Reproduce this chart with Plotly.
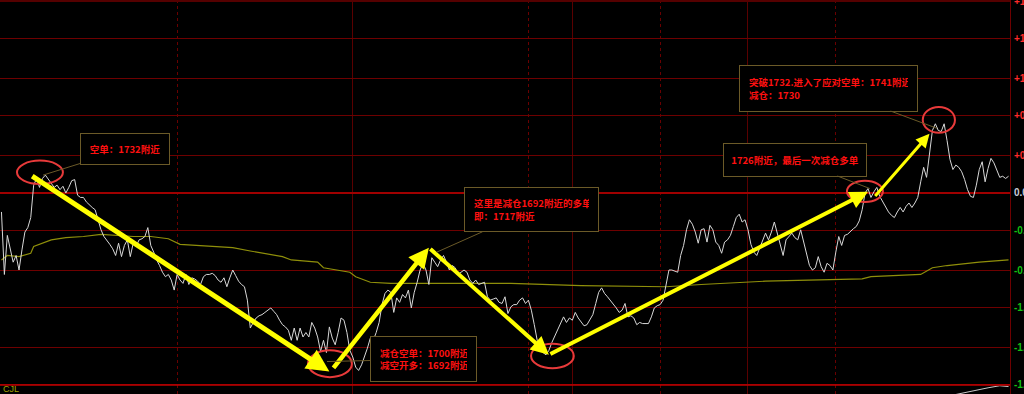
import plotly.graph_objects as go

# ---- data -------------------------------------------------------------
# percent change of each 1-minute bar (session of 345 bars)
price = [
    -0.17, -0.73, -0.38, -0.51, -0.62, -0.56, -0.69, -0.51, -0.35, -0.31,
    -0.22, 0.07, 0.13, 0.05, 0.13, 0.16, 0.12, 0.09, 0.05, 0.07,
    0.03, 0.06, 0.00, 0.05, 0.11, 0.12, -0.02, -0.04, -0.04, -0.08,
    -0.11, -0.13, -0.15, -0.24, -0.33, -0.39, -0.42, -0.46, -0.50, -0.56,
    -0.45, -0.57, -0.47, -0.42, -0.57, -0.45, -0.48, -0.42, -0.41, -0.39,
    -0.31, -0.47, -0.53, -0.60, -0.65, -0.71, -0.75, -0.73, -0.78, -0.87,
    -0.73, -0.78, -0.81, -0.73, -0.82, -0.76, -0.77, -0.79, -0.82, -0.75,
    -0.73, -0.73, -0.72, -0.74, -0.78, -0.80, -0.76, -0.84, -0.76, -0.69,
    -0.74, -0.79, -0.82, -0.84, -0.96, -1.21, -1.16, -1.12, -1.10, -1.09,
    -1.07, -1.05, -1.03, -1.06, -1.09, -1.14, -1.18, -1.20, -1.23, -1.32,
    -1.21, -1.32, -1.21, -1.29, -1.25, -1.29, -1.16, -1.21, -1.29, -1.42,
    -1.32, -1.43, -1.20, -1.30, -1.36, -1.25, -1.12, -1.14, -1.25, -1.41,
    -1.47, -1.56, -1.59, -1.54, -1.47, -1.39, -1.30, -1.32, -1.25, -1.16,
    -1.00, -0.90, -0.87, -0.89, -1.07, -0.94, -0.98, -0.91, -0.94, -0.87,
    -1.03, -0.89, -0.80, -0.69, -0.63, -0.69, -0.82, -0.58, -0.62, -0.66,
    -0.60, -0.56, -0.62, -0.69, -0.65, -0.67, -0.73, -0.71, -0.69, -0.71,
    -0.78, -0.81, -0.78, -0.82, -0.81, -0.80, -0.93, -0.96, -0.95, -0.94,
    -0.98, -0.99, -0.93, -1.08, -1.02, -1.00, -1.00, -0.96, -0.94, -0.99,
    -0.96, -1.05, -1.18, -1.32, -1.39, -1.43, -1.45, -1.41, -1.34, -1.28,
    -1.23, -1.16, -1.11, -1.16, -1.12, -1.14, -1.07, -1.12, -1.16, -1.19,
    -1.18, -1.14, -1.09, -0.99, -0.89, -0.85, -0.90, -0.93, -0.96, -0.99,
    -1.03, -1.07, -1.05, -0.99, -1.11, -1.10, -1.12, -1.18, -1.16, -1.17,
    -1.17, -1.17, -1.11, -1.03, -1.01, -1.00, -0.96, -0.82, -0.69, -0.69,
    -0.70, -0.71, -0.56, -0.47, -0.33, -0.24, -0.28, -0.35, -0.45, -0.33,
    -0.32, -0.44, -0.29, -0.33, -0.44, -0.47, -0.54, -0.44, -0.42, -0.38,
    -0.30, -0.22, -0.19, -0.26, -0.24, -0.33, -0.46, -0.53, -0.56, -0.49,
    -0.42, -0.36, -0.42, -0.35, -0.26, -0.36, -0.47, -0.56, -0.42, -0.39,
    -0.36, -0.40, -0.42, -0.33, -0.44, -0.56, -0.65, -0.69, -0.67, -0.57,
    -0.66, -0.71, -0.63, -0.65, -0.69, -0.53, -0.39, -0.47, -0.38, -0.37,
    -0.34, -0.32, -0.30, -0.25, -0.15, 0.00, 0.04, -0.04, 0.01, 0.05,
    -0.03, -0.08, -0.13, -0.17, -0.20, -0.22, -0.17, -0.13, -0.17, -0.12,
    -0.09, -0.13, -0.09, -0.04, 0.10, 0.23, 0.14, 0.34, 0.56, 0.62,
    0.56, 0.55, 0.62, 0.47, 0.30, 0.21, 0.25, 0.23, 0.19, 0.12,
    0.03, -0.03, -0.04, 0.07, 0.21, 0.28, 0.10, 0.22, 0.31, 0.27,
    0.21, 0.14, 0.15, 0.13, 0.15,
]
minutes = list(range(len(price)))

ma_minutes = [0, 2, 6, 10, 11, 17, 22, 28, 34, 39, 45, 51, 57, 61, 68, 74, 79,
              85, 96, 99, 108, 110, 119, 121, 126, 133, 174, 198, 227, 239,
              261, 294, 297, 314, 318, 323, 334, 344]
ma_values = [-0.60, -0.56, -0.57, -0.54, -0.48, -0.42, -0.40, -0.39, -0.37,
             -0.38, -0.39, -0.39, -0.41, -0.46, -0.47, -0.48, -0.49, -0.52,
             -0.57, -0.60, -0.62, -0.67, -0.71, -0.75, -0.80, -0.81, -0.81,
             -0.83, -0.84, -0.82, -0.79, -0.77, -0.75, -0.73, -0.67, -0.65,
             -0.62, -0.60]

cjl_minutes = [320, 333, 337, 341, 344]
cjl_values = [-0.5, 0.5, 0.75, 1.0, 0.9]

tick_values = [1.72, 1.38, 1.03, 0.69, 0.34, 0.0, -0.34, -0.69, -1.03, -1.38, -1.72]
tick_labels = ["+1.72", "+1.38", "+1.03", "+0.69", "+0.34", "0.00",
               "-0.34", "-0.69", "-1.03", "-1.38", "-1.72"]
session_breaks = [120, 195, 255]
hour_marks = [60, 180, 225, 285]

# trade arrows: from (minute, pct) to (minute, pct)
arrow_from_min = [10, 113, 146, 187, 298]
arrow_from_val = [0.16, -1.58, -0.49, -1.45, -0.04]
arrow_to_min = [112, 146, 187, 296, 317]
arrow_to_val = [-1.60, -0.49, -1.45, 0.01, 0.53]

# circled turning points: (min0, min1, val0, val1)
circle_min0 = [5.3, 104.7, 180.9, 288.8, 314.7]
circle_min1 = [21.0, 119.7, 195.5, 301.1, 325.7]
circle_val0 = [0.08, -1.65, -1.57, -0.08, 0.54]
circle_val1 = [0.29, -1.41, -1.35, 0.11, 0.77]

# callouts
note_texts = [
    "空单：1732附近",
    "这里是减仓1692附近的多单<br>即：1717附近",
    "减仓空单：1700附近<br>减空开多：1692附近",
    "1726附近，最后一次减仓多单",
    "突破1732.进入了应对空单：1741附近<br>减仓：1730",
]
note_tip_min = [14.2, 148.7, 111.2, 296.6, 319.5]
note_tip_val = [0.16, -0.53, -1.51, 0.04, 0.58]
note_box_min = [42.2, 181.2, 144.0, 271.0, 282.6]
note_box_val = [0.39, -0.15, -1.49, 0.30, 0.94]

# ---- figure -----------------------------------------------------------
GRID = "#6e0000"
BOX = "#6b5a28"

fig = go.Figure()
fig.add_trace(go.Scatter(x=ma_minutes, y=ma_values, mode="lines",
                         line=dict(color="#8f8f0a", width=1.2),
                         hoverinfo="skip", showlegend=False))
fig.add_trace(go.Scatter(x=minutes, y=price, mode="lines",
                         line=dict(color="#d8d8d8", width=1),
                         hoverinfo="skip", showlegend=False))
fig.add_trace(go.Scatter(x=cjl_minutes, y=cjl_values, mode="lines",
                         line=dict(color="#c8c8c8", width=1), yaxis="y2",
                         hoverinfo="skip", showlegend=False))

fig.update_layout(
    width=1024, height=394,
    margin=dict(l=0, r=14, t=0, b=0),
    paper_bgcolor="#000000", plot_bgcolor="#000000",
    xaxis=dict(range=[-0.5, 344.5], showticklabels=False, ticks="",
               tickvals=session_breaks, showgrid=True, gridcolor="#5a0000",
               gridwidth=1, zeroline=False, showline=False,
               minor=dict(tickvals=hour_marks, showgrid=True,
                          gridcolor="#6a0000", griddash="dot", gridwidth=1)),
    yaxis=dict(range=[-1.801, 1.729], domain=[0, 1], side="right",
               tickvals=tick_values, showticklabels=False, ticks="",
               showgrid=True, gridcolor=GRID, gridwidth=1,
               zeroline=True, zerolinecolor="#a00000", zerolinewidth=2,
               showline=True, linecolor="#6e0000", linewidth=1),
    yaxis2=dict(range=[0, 1.05], domain=[0, 0.022], showticklabels=False,
                showgrid=False, zeroline=False),
    showlegend=False,
)

# bottom separator and top border
fig.add_shape(type="line", xref="paper", x0=0, x1=1, yref="y",
              y0=-1.72, y1=-1.72, line=dict(color="#c00000", width=1.5))
fig.add_shape(type="line", xref="paper", x0=0, x1=1, yref="y",
              y0=1.72, y1=1.72, line=dict(color="#550000", width=2))

# right axis labels (coloured by sign; the window edge cuts them as in the source)
for v, lab in zip(tick_values, tick_labels):
    col = "#ff2a2a" if v > 0 else ("#c8ccd8" if v == 0 else "#12c012")
    fig.add_annotation(xref="paper", x=1, yref="y", y=v, text="<b>" + lab + "</b>",
                       showarrow=False, xanchor="left", xshift=2,
                       font=dict(family="Liberation Sans, Arial", size=10, color=col))

fig.add_annotation(xref="paper", x=0, yref="paper", y=0, text="CJL",
                   showarrow=False, xanchor="left", yanchor="bottom",
                   xshift=1, yshift=-2,
                   font=dict(family="Liberation Sans, Arial", size=9, color="#a0a000"))

# yellow arrows
arrow_widths = [5, 4.5, 4, 4, 3]
for fm, fv, tm, tv, w in zip(arrow_from_min, arrow_from_val, arrow_to_min,
                             arrow_to_val, arrow_widths):
    fig.add_annotation(x=tm, y=tv, ax=fm, ay=fv, xref="x", yref="y",
                       axref="x", ayref="y", text="", showarrow=True,
                       arrowhead=2, arrowsize=0.9, arrowwidth=w,
                       arrowcolor="#ffff00", standoff=0, startstandoff=0)

# circles
for a0, a1, b0, b1 in zip(circle_min0, circle_min1, circle_val0, circle_val1):
    fig.add_shape(type="circle", xref="x", yref="y", x0=a0, x1=a1, y0=b0, y1=b1,
                  line=dict(color="#e83a3a", width=2))

# callouts (outer box sizes in px, inner padding)
box_w = [90, 135, 107, 144, 179]
box_h = [32, 45, 46, 34, 47]
box_pad = [4, 9, 9, 4, 9]
box_align = ["center", "left", "left", "center", "left"]
for txt, tm, tv, bm, bv, w, h, p, al in zip(note_texts, note_tip_min, note_tip_val,
                                            note_box_min, note_box_val, box_w,
                                            box_h, box_pad, box_align):
    fig.add_annotation(x=tm, y=tv, ax=bm, ay=bv, xref="x", yref="y",
                       axref="x", ayref="y",
                       text="<b>" + txt + "</b>", showarrow=True, arrowhead=0,
                       arrowwidth=1, arrowcolor=BOX, standoff=0,
                       bgcolor="#000000", bordercolor=BOX, borderwidth=1,
                       borderpad=p, width=w - 2 * p - 2, height=h - 2 * p - 2,
                       align=al, valign="middle",
                       font=dict(family="Noto Sans CJK SC", size=9.5, color="#ff1010"))

fig.write_html("out.html")
